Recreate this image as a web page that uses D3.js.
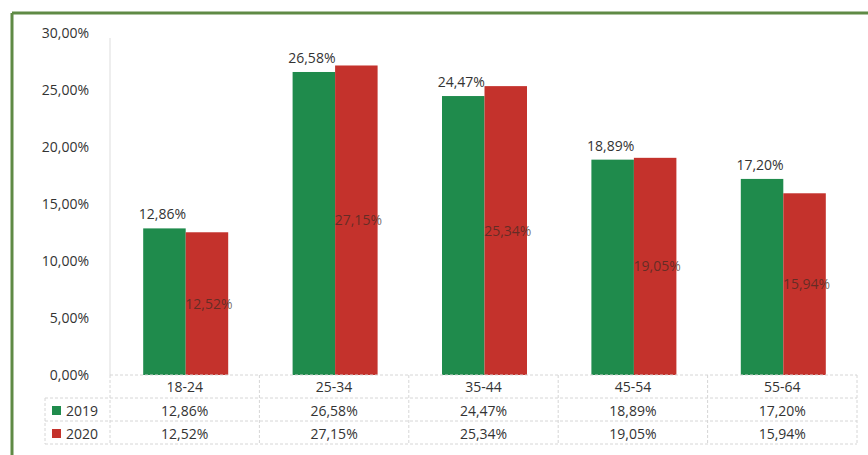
<!DOCTYPE html>
<html>
<head>
<meta charset="utf-8">
<script src="https://cdn.jsdelivr.net/npm/d3@7"></script>
<style>
  body { margin: 0; background: #fff; }
  text { font-family: "Open Sans", "Liberation Sans", sans-serif; }
</style>
</head>
<body>
<div id="chart"></div>
<script>
// Data
const categories = ["18-24", "25-34", "35-44", "45-54", "55-64"];
const seriesNames = ["2019", "2020"];
const values2019 = [12.86, 26.58, 24.47, 18.89, 17.20];
const values2020 = [12.52, 27.15, 25.34, 19.05, 15.94];
const yTicks = [0, 5, 10, 15, 20, 25, 30];

const colors = ["#1f8b4c", "#c4322c"];
const series = [values2019, values2020];
const fmt = (v) => v.toFixed(2).replace(".", ",") + "%";

const W = 868, H = 455;
const plot = { left: 110, right: 857, top: 33, bottom: 375 };
const rowH = 23;
const fs = 14;

const svg = d3
  .select("#chart")
  .append("svg")
  .attr("width", W)
  .attr("height", H);

// Outer green frame (only top and left visible in the crop)
svg.append("line")
  .attr("x1", 12).attr("x2", W).attr("y1", 13).attr("y2", 13)
  .attr("stroke", "#5f8a45").attr("stroke-width", 3);
svg.append("line")
  .attr("x1", 12).attr("x2", 12).attr("y1", 13).attr("y2", H)
  .attr("stroke", "#5f8a45").attr("stroke-width", 3);

// Scales
const x = d3.scaleBand().domain(categories).range([plot.left, plot.right]);
const xInner = d3.scaleBand().domain(seriesNames).range([0, 85]);
const barOffset = (x.bandwidth() - 85) / 2 + 1;
const y = d3.scaleLinear().domain([0, 30]).range([plot.bottom, plot.top]);

// Y axis labels
const yAxis = svg.append("g")
  .attr("transform", `translate(${plot.left - 18},0)`)
  .call(d3.axisLeft(y).tickValues(yTicks).tickSize(0).tickFormat(fmt));
yAxis.select(".domain").remove();
yAxis.selectAll("text")
  .attr("font-size", fs)
  .attr("font-family", "'Open Sans', sans-serif")
  .attr("fill", "#333");

// Vertical axis line
svg.append("line")
  .attr("x1", plot.left).attr("x2", plot.left)
  .attr("y1", plot.top + 5).attr("y2", plot.bottom)
  .attr("stroke", "#ddd");

// Bars
const groups = svg.selectAll("g.cat")
  .data(categories)
  .enter()
  .append("g")
  .attr("class", "cat")
  .attr("transform", (d) => `translate(${x(d) + barOffset},0)`);

seriesNames.forEach((name, si) => {
  groups.append("rect")
    .attr("x", xInner(name))
    .attr("y", (d, i) => y(series[si][i]))
    .attr("width", xInner.bandwidth())
    .attr("height", (d, i) => plot.bottom - y(series[si][i]))
    .attr("fill", colors[si]);
});

// 2019 labels above the green bars
groups.append("text")
  .attr("x", xInner("2019") + xInner.bandwidth() / 2 - 2)
  .attr("y", (d, i) => y(values2019[i]) - 9)
  .attr("text-anchor", "middle")
  .attr("font-size", fs)
  .attr("fill", "#333")
  .text((d, i) => fmt(values2019[i]));

// 2020 labels in the middle of the red bars
groups.append("text")
  .attr("x", xInner("2020") + xInner.bandwidth() / 2 + 2)
  .attr("y", (d, i) => (y(values2020[i]) + plot.bottom) / 2 + 5)
  .attr("text-anchor", "middle")
  .attr("font-size", fs)
  .attr("fill", "#3a2a22")
  .attr("fill-opacity", 0.7)
  .text((d, i) => fmt(values2020[i]));

// Data table under the chart
const table = svg.append("g").attr("stroke", "#d6d6d6").attr("stroke-dasharray", "3,2");
[0, 1, 2, 3].forEach((r) => {
  table.append("line")
    .attr("x1", r === 0 ? plot.left : 45).attr("x2", plot.right)
    .attr("y1", plot.bottom + r * rowH).attr("y2", plot.bottom + r * rowH);
});
table.selectAll("line.v")
  .data(categories.concat(["end"]))
  .enter()
  .append("line")
  .attr("x1", (d) => d === "end" ? plot.right : x(d))
  .attr("x2", (d) => d === "end" ? plot.right : x(d))
  .attr("y1", plot.bottom).attr("y2", plot.bottom + 3 * rowH);
table.append("line")
  .attr("x1", 45).attr("x2", 45)
  .attr("y1", plot.bottom + rowH).attr("y2", plot.bottom + 3 * rowH);

// Category header row
svg.selectAll("text.cat")
  .data(categories)
  .enter()
  .append("text")
  .attr("x", (d) => x(d) + x.bandwidth() / 2)
  .attr("y", plot.bottom + 17)
  .attr("text-anchor", "middle")
  .attr("font-size", fs)
  .attr("fill", "#333")
  .text((d) => d);

// Series rows with legend keys
seriesNames.forEach((name, si) => {
  const rowY = plot.bottom + (si + 1) * rowH;
  svg.append("rect")
    .attr("x", 52).attr("y", rowY + 8)
    .attr("width", 9).attr("height", 9)
    .attr("fill", colors[si]);
  svg.append("text")
    .attr("x", 66).attr("y", rowY + 18)
    .attr("font-size", fs)
    .attr("fill", "#333")
    .text(name);
  svg.selectAll(null)
    .data(categories)
    .enter()
    .append("text")
    .attr("x", (d) => x(d) + x.bandwidth() / 2)
    .attr("y", rowY + 18)
    .attr("text-anchor", "middle")
    .attr("font-size", fs)
    .attr("fill", "#333")
    .text((d, i) => fmt(series[si][i]));
});
</script>
</body>
</html>
